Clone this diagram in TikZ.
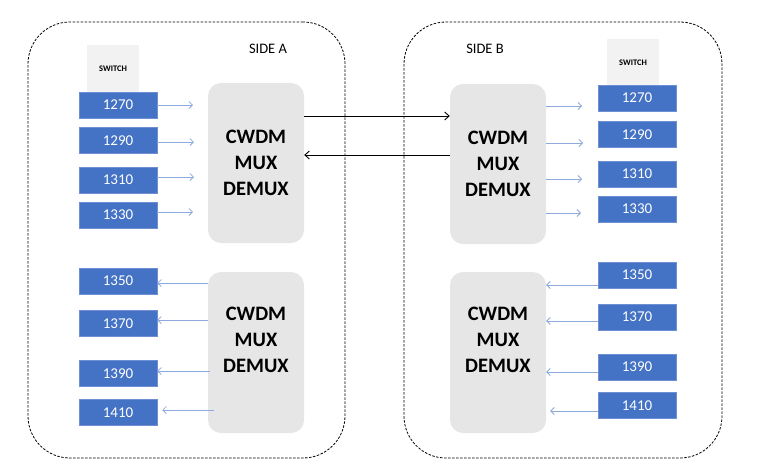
\documentclass[tikz,border=0pt]{standalone}
\usepackage{fontspec}
\setmainfont{Carlito}
\usetikzlibrary{arrows.meta}
\definecolor{boxblue}{HTML}{4472C4}
\definecolor{boxedge}{HTML}{6F8FD3}
\definecolor{muxgray}{HTML}{E7E6E6}
\definecolor{swgray}{HTML}{F2F2F2}
\definecolor{arrblue}{HTML}{8EA9DB}
\tikzset{
  sidebox/.style={draw=black, dash pattern=on 2.5pt off 1.5pt, line width=0.8pt, rounded corners=42pt},
  muxbox/.style={fill=muxgray, draw=none, rounded corners=13pt, minimum width=96pt, minimum height=160pt,
     align=center, font=\fontsize{20.5}{26}\selectfont\bfseries, inner sep=0pt},
  swbox/.style={fill=swgray, draw=none, minimum width=52pt, minimum height=47pt, inner sep=0pt},
  swtext/.style={font=\fontsize{8.5}{10}\selectfont\bfseries, inner sep=0pt},
  chbox/.style={fill=boxblue, draw=boxedge, line width=0.5pt, minimum width=78pt, minimum height=26pt,
     text=white, font=\fontsize{15}{18}\selectfont, inner sep=0pt},
  sidetext/.style={font=\fontsize{14.5}{17}\selectfont, inner sep=0pt},
  barrow/.style={draw=arrblue, line width=0.8pt, -{Straight Barb[length=3.5pt,width=7pt]}},
  karrow/.style={draw=black, line width=0.9pt, -{Straight Barb[length=4.5pt,width=8pt]}}
}
\begin{document}
\begin{tikzpicture}[x=1pt,y=-1pt]
\useasboundingbox (0,0) rectangle (768,472);
% side boxes
\node[sidebox, minimum width=317pt, minimum height=436pt, inner sep=0pt] (sideA) at (186.5,240) {};
\node[sidebox, minimum width=318pt, minimum height=436pt, inner sep=0pt] (sideB) at (563,240) {};
\node[sidetext] (labA) at (268,49) {SIDE A};
\node[sidetext] (labB) at (485,49) {SIDE B};
% switch boxes
\node[swbox] (swA) at (113,68.5) {};
\node[swtext] (swAt) at (113,69) {SWITCH};
\node[swbox, minimum height=46pt] (swB) at (633,62) {};
\node[swtext] (swBt) at (633,62.5) {SWITCH};
% mux boxes
\node[muxbox] (lmuxT) at (256,163) {CWDM\\MUX\\DEMUX};
\node[muxbox, minimum height=161pt] (lmuxB) at (256,352.5) {CWDM\\MUX\\DEMUX\\\mbox{}};
\node[muxbox] (rmuxT) at (498,164) {CWDM\\MUX\\DEMUX};
\node[muxbox, minimum height=161pt] (rmuxB) at (498,352.5) {CWDM\\MUX\\DEMUX\\\mbox{}};
% left channel boxes
\node[chbox] (l1270) at (118,105) {1270};
\node[chbox] (l1290) at (118,140.5) {1290};
\node[chbox] (l1310) at (118,180) {1310};
\node[chbox] (l1330) at (118,215) {1330};
\node[chbox] (l1350) at (118,281) {1350};
\node[chbox] (l1370) at (118,323.5) {1370};
\node[chbox] (l1390) at (118,373.5) {1390};
\node[chbox] (l1410) at (118,412.5) {1410};
% right channel boxes
\node[chbox] (r1270) at (637,98) {1270};
\node[chbox] (r1290) at (637,134.5) {1290};
\node[chbox] (r1310) at (637,174) {1310};
\node[chbox] (r1330) at (637,209) {1330};
\node[chbox] (r1350) at (637,275) {1350};
\node[chbox] (r1370) at (637,317) {1370};
\node[chbox] (r1390) at (637,367) {1390};
\node[chbox] (r1410) at (637,405.5) {1410};
% left arrow ends
\coordinate (la1) at (193,105);
\coordinate (la2) at (194,142);
\coordinate (la3) at (194,177);
\coordinate (la4) at (193,212);
\draw[barrow] (l1270.east |- la1) -- (la1);
\draw[barrow] (l1290.east |- la2) -- (la2);
\draw[barrow] (l1310.east |- la3) -- (la3);
\draw[barrow] (l1330.east |- la4) -- (la4);
\coordinate (lb1) at (208,283);
\coordinate (lb2) at (208,320);
\coordinate (lb3) at (210,371);
\coordinate (lb4) at (214,410);
\draw[barrow] (lb1) -- (l1350.east |- lb1);
\draw[barrow] (lb2) -- (l1370.east |- lb2);
\draw[barrow] (lb3) -- (l1390.east |- lb3);
\draw[barrow, shorten >=5pt] (lb4) -- (l1410.east |- lb4);
% right arrows
\coordinate (ra1) at (582,106);
\coordinate (ra2) at (583,143);
\coordinate (ra3) at (582,179);
\coordinate (ra4) at (581,213);
\draw[barrow] (rmuxT.east |- ra1) -- (ra1);
\draw[barrow] (rmuxT.east |- ra2) -- (ra2);
\draw[barrow] (rmuxT.east |- ra3) -- (ra3);
\draw[barrow] (rmuxT.east |- ra4) -- (ra4);
\draw[barrow] (r1350.west |- 0,285) -- (rmuxB.east |- 0,285);
\draw[barrow] (r1370.west |- 0,321) -- (rmuxB.east |- 0,321);
\draw[barrow] (r1390.west |- 0,372) -- (rmuxB.east |- 0,372);
\draw[barrow, shorten >=4pt] (r1410.west |- 0,411) -- (rmuxB.east |- 0,411);
% trunk arrows
\draw[karrow] (lmuxT.east |- 0,116) -- (rmuxT.west |- 0,116);
\draw[karrow] (rmuxT.west |- 0,155) -- (lmuxT.east |- 0,155);
\end{tikzpicture}
\end{document}
